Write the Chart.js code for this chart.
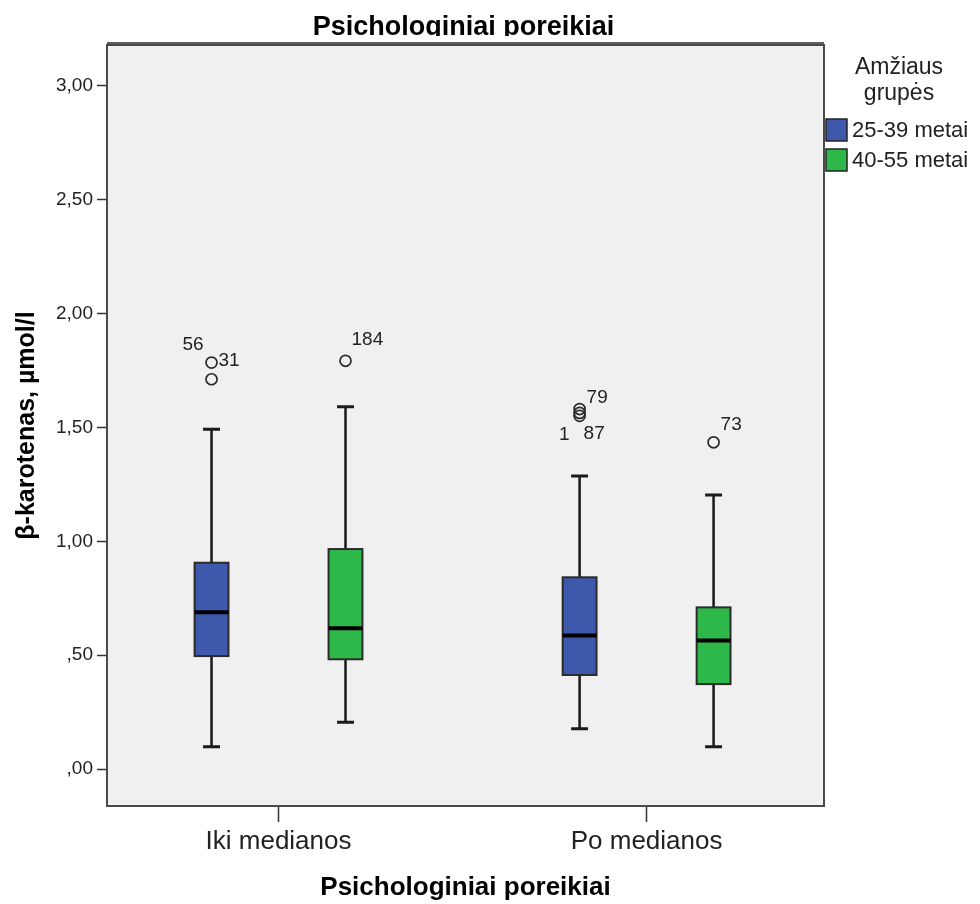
<!DOCTYPE html>
<html>
<head>
<meta charset="utf-8">
<script src="https://cdn.jsdelivr.net/npm/chart.js@4/dist/chart.umd.min.js"></script>
<style>
  html, body { margin: 0; padding: 0; background: #fff; }
</style>
</head>
<body>
<canvas id="boxChart" width="980" height="904"></canvas>
<script>
// ---- data ----
const categories = ["Iki medianos", "Po medianos"];
const groups = ["25-39 metai", "40-55 metai"];
const yTickStep = 0.5;

// 25-39 metai, one value per category
const youngMin = [0.098, 0.177];
const youngQ1 = [0.496, 0.413];
const youngMedian = [0.688, 0.586];
const youngQ3 = [0.906, 0.842];
const youngMax = [1.492, 1.287];
const youngOutliers = [[1.785, 1.712], [1.581, 1.564, 1.551]];
const youngOutlierIds = [["31", "56"], ["79", "", "87"]];

// 40-55 metai
const olderMin = [0.205, 0.098];
const olderQ1 = [0.482, 0.373];
const olderMedian = [0.618, 0.564];
const olderQ3 = [0.966, 0.710];
const olderMax = [1.591, 1.203];
const olderOutliers = [[1.793], [1.435]];
const olderOutlierIds = [["184"], ["73"]];

// ---- styles ----
const groupColors = ["#3e58ac", "#2eb84a"];
const groupOffset = [-0.182, 0.182];   // x offset of each group from its category, in category units
const boxWidth = 0.092;                // in category units
const plotBg = "#f0f0f0";
const inkColor = "#1a1a1a";
// where each id label sits relative to its circle: [dx, dy, align]
const youngIdPlacement = [[[7, -2, "left"], [-8, -34, "right"]], [[7, -11, "left"], [0, 0, "left"], [4, 18, "left"]]];
const olderIdPlacement = [[[6, -21, "left"]], [[7, -18, "left"]]];
const extraIdLabels = [{ group: 0, cat: 1, point: 2, text: "1", dx: -10, dy: 19, align: "right" }];

const series = [
  { min: youngMin, q1: youngQ1, med: youngMedian, q3: youngQ3, max: youngMax, out: youngOutliers, ids: youngOutlierIds, place: youngIdPlacement },
  { min: olderMin, q1: olderQ1, med: olderMedian, q3: olderQ3, max: olderMax, out: olderOutliers, ids: olderOutlierIds, place: olderIdPlacement }
];

function fmtTick(v) {
  let s = v.toFixed(2).replace(".", ",");
  if (s.startsWith("0")) s = s.slice(1);
  return s;
}

const outlierSets = series.map((s, g) => ({
  label: groups[g],
  data: s.out.flatMap((vals, i) => vals.map(v => ({ x: i + groupOffset[g], y: v }))),
  pointStyle: "circle",
  pointRadius: 5.5,
  pointHoverRadius: 5.5,
  pointBorderWidth: 1.7,
  pointBorderColor: "#2a2a2a",
  pointBackgroundColor: "rgba(0,0,0,0)"
}));

const boxPlugin = {
  id: "boxes",
  beforeDraw(chart) {
    const { ctx, chartArea: a } = chart;
    ctx.save();
    ctx.fillStyle = "#fff";
    ctx.fillRect(0, 0, chart.width, chart.height);
    ctx.fillStyle = plotBg;
    ctx.fillRect(a.left, a.top, a.right - a.left, a.bottom - a.top);
    ctx.restore();
  },
  beforeDatasetsDraw(chart) {
    const { ctx } = chart;
    const xs = chart.scales.x, ys = chart.scales.y;
    const halfW = (xs.getPixelForValue(boxWidth) - xs.getPixelForValue(0)) / 2;
    ctx.save();
    series.forEach((s, g) => {
      categories.forEach((c, i) => {
        const cx = xs.getPixelForValue(i + groupOffset[g]);
        const yMin = ys.getPixelForValue(s.min[i]);
        const yQ1 = ys.getPixelForValue(s.q1[i]);
        const yMed = ys.getPixelForValue(s.med[i]);
        const yQ3 = ys.getPixelForValue(s.q3[i]);
        const yMax = ys.getPixelForValue(s.max[i]);
        ctx.strokeStyle = inkColor;
        ctx.lineCap = "butt";
        // whiskers
        ctx.lineWidth = 2.5;
        ctx.beginPath();
        ctx.moveTo(cx, yMax); ctx.lineTo(cx, yQ3);
        ctx.moveTo(cx, yQ1); ctx.lineTo(cx, yMin);
        ctx.stroke();
        ctx.lineWidth = 3;
        ctx.beginPath();
        ctx.moveTo(cx - halfW / 2, yMax); ctx.lineTo(cx + halfW / 2, yMax);
        ctx.moveTo(cx - halfW / 2, yMin); ctx.lineTo(cx + halfW / 2, yMin);
        ctx.stroke();
        // box
        ctx.fillStyle = groupColors[g];
        ctx.fillRect(cx - halfW, yQ3, halfW * 2, yQ1 - yQ3);
        ctx.lineWidth = 2;
        ctx.strokeStyle = "#2b2b2b";
        ctx.strokeRect(cx - halfW, yQ3, halfW * 2, yQ1 - yQ3);
        // median
        ctx.strokeStyle = "#000";
        ctx.lineWidth = 4;
        ctx.beginPath();
        ctx.moveTo(cx - halfW, yMed); ctx.lineTo(cx + halfW, yMed);
        ctx.stroke();
      });
    });
    ctx.restore();
  },
  afterDraw(chart) {
    const { ctx, chartArea: a } = chart;
    const xs = chart.scales.x, ys = chart.scales.y;
    ctx.save();
    // frame
    ctx.strokeStyle = "#4a4a4a";
    ctx.lineWidth = 2;
    ctx.strokeRect(a.left, a.top, a.right - a.left, a.bottom - a.top);
    ctx.strokeStyle = "#5e5e5e";
    ctx.lineWidth = 2;
    ctx.beginPath();
    ctx.moveTo(a.left, a.top - 2); ctx.lineTo(a.right, a.top - 2);
    ctx.stroke();

    // id labels of outliers
    ctx.fillStyle = "#222";
    ctx.font = "19px 'Liberation Sans', Arial, sans-serif";
    ctx.textBaseline = "middle";
    series.forEach((s, g) => {
      s.out.forEach((vals, i) => {
        vals.forEach((v, k) => {
          const id = s.ids[i][k];
          if (!id) return;
          const p = s.place[i][k];
          ctx.textAlign = p[2];
          ctx.fillText(id, xs.getPixelForValue(i + groupOffset[g]) + p[0], ys.getPixelForValue(v) + p[1]);
        });
      });
    });
    extraIdLabels.forEach(l => {
      const v = series[l.group].out[l.cat][l.point];
      ctx.textAlign = l.align;
      ctx.fillText(l.text, xs.getPixelForValue(l.cat + groupOffset[l.group]) + l.dx, ys.getPixelForValue(v) + l.dy);
    });

    // top title, clipped like in the source
    ctx.save();
    ctx.beginPath();
    ctx.rect(0, 0, chart.width, 36);
    ctx.clip();
    ctx.fillStyle = "#000";
    ctx.font = "bold 27px 'Liberation Sans', Arial, sans-serif";
    ctx.textAlign = "center";
    ctx.textBaseline = "alphabetic";
    ctx.fillText("Psichologiniai poreikiai", (a.left + a.right) / 2 - 2, 35);
    ctx.restore();

    // legend
    const lx = a.right + 2;
    ctx.fillStyle = "#222";
    ctx.font = "23px 'Liberation Sans', Arial, sans-serif";
    ctx.textAlign = "center";
    ctx.textBaseline = "middle";
    ctx.fillText("Amžiaus", 899, 68);
    ctx.fillText("grupės", 899, 94);
    ctx.font = "22px 'Liberation Sans', Arial, sans-serif";
    groups.forEach((name, g) => {
      const top = 119 + g * 30;
      ctx.fillStyle = groupColors[g];
      ctx.fillRect(lx, top, 21, 22);
      ctx.strokeStyle = "#222";
      ctx.lineWidth = 1.5;
      ctx.strokeRect(lx, top, 21, 22);
      ctx.fillStyle = "#222";
      ctx.textAlign = "left";
      ctx.fillText(name, lx + 26, top + 12);
    });
    ctx.restore();
  }
};

new Chart(document.getElementById("boxChart"), {
  type: "scatter",
  data: { datasets: outlierSets },
  plugins: [boxPlugin],
  options: {
    responsive: false,
    devicePixelRatio: 1,
    animation: false,
    events: [],
    layout: { padding: { top: 45, right: 156, left: 0, bottom: 0 } },
    plugins: { legend: { display: false }, tooltip: { enabled: false }, title: { display: false } },
    scales: {
      x: {
        type: "linear",
        min: -0.466,
        max: 1.482,
        afterFit(scale) { scale.height = 98; },
        afterBuildTicks(scale) { scale.ticks = categories.map((c, i) => ({ value: i })); },
        ticks: {
          callback: v => categories[v] ?? "",
          color: "#222",
          padding: 4,
          maxRotation: 0,
          font: { family: "'Liberation Sans', Arial, sans-serif", size: 26 }
        },
        grid: { drawOnChartArea: false, drawTicks: true, tickLength: 16, tickWidth: 1.5, tickColor: "#333" },
        border: { display: false },
        title: {
          display: true,
          text: "Psichologiniai poreikiai",
          color: "#000",
          padding: { top: 0, bottom: 1 },
          font: { family: "'Liberation Sans', Arial, sans-serif", size: 26, weight: "bold" }
        }
      },
      y: {
        type: "linear",
        min: -0.1625,
        max: 3.18,
        afterFit(scale) { scale.width = 107; },
        ticks: {
          stepSize: yTickStep,
          includeBounds: false,
          callback: v => fmtTick(v),
          color: "#222",
          padding: 4,
          font: { family: "'Liberation Sans', Arial, sans-serif", size: 19 }
        },
        grid: { drawOnChartArea: false, drawTicks: true, tickLength: 10, tickWidth: 1.5, tickColor: "#333" },
        border: { display: false },
        title: {
          display: true,
          text: "β-karotenas, µmol/l",
          color: "#000",
          padding: { top: 12, bottom: 0 },
          font: { family: "'Liberation Sans', Arial, sans-serif", size: 25, weight: "bold" }
        }
      }
    }
  }
});
</script>
</body>
</html>
